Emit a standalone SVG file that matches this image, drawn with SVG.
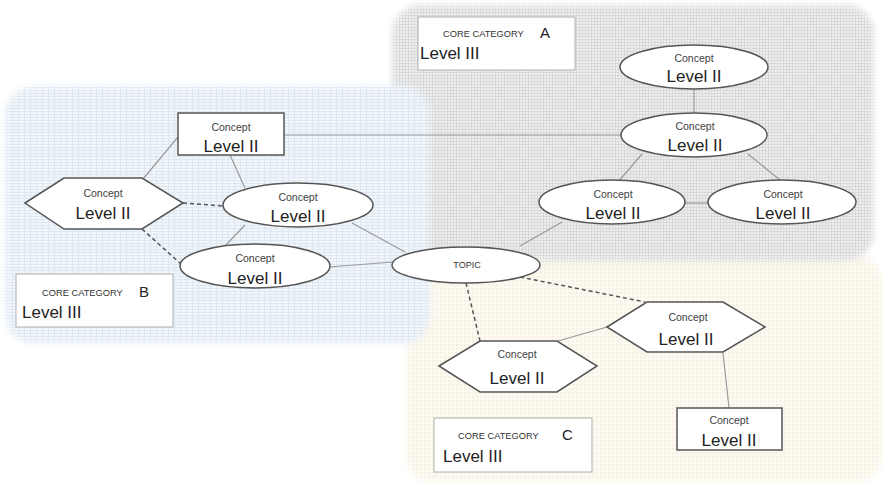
<svg xmlns="http://www.w3.org/2000/svg" width="884" height="486" viewBox="0 0 884 486">
<defs>
  <pattern id="pGray" width="6" height="6" patternUnits="userSpaceOnUse">
    <rect width="6" height="6" fill="#eeeeee"/>
    <path d="M0 0.5H6M0 3.5H6M0.5 0V6M3.5 0V6" stroke="#d9d9d9" stroke-width="1"/>
  </pattern>
  <pattern id="pBlue" width="6" height="6" patternUnits="userSpaceOnUse">
    <rect width="6" height="6" fill="#f1f6fb"/>
    <path d="M0 0.5H6M0 3.5H6M0.5 0V6" stroke="#dfe8f1" stroke-width="1"/>
  </pattern>
  <pattern id="pYellow" width="4" height="4" patternUnits="userSpaceOnUse">
    <rect width="4" height="4" fill="#fcf9f0"/>
    <rect x="0" y="0" width="2" height="2" fill="#f6f0e0"/>
  </pattern>
  <filter id="soft" x="-5%" y="-5%" width="110%" height="110%">
    <feGaussianBlur stdDeviation="3"/>
  </filter>
  <mask id="mGray"><rect x="392" y="5" width="482" height="256" rx="28" fill="#fff" filter="url(#soft)"/></mask>
  <mask id="mBlue"><rect x="5" y="86" width="425" height="258" rx="28" fill="#fff" filter="url(#soft)"/></mask>
  <mask id="mYellow"><rect x="406" y="256" width="476" height="226" rx="26" fill="#fff" filter="url(#soft)"/></mask>
</defs>
<style>
  .node { fill: #ffffff; stroke: #555555; stroke-width: 1.5; }
  .box { fill: #ffffff; stroke: #b0b0b0; stroke-width: 1; }
  .ln { stroke: #9a9a9a; stroke-width: 1.2; fill: none; }
  .dash { stroke: #555555; stroke-width: 1.5; stroke-dasharray: 4 3; fill: none; }
  .c { font-family: "Liberation Sans", Arial, sans-serif; font-size: 10.5px; fill: #404040; text-anchor: middle; }
  .l2 { font-family: "Liberation Sans", Arial, sans-serif; font-size: 17px; fill: #222222; text-anchor: middle; }
  .cc { font-family: "Liberation Sans", Arial, sans-serif; font-size: 9.3px; fill: #333333; }
  .let { font-family: "Liberation Sans", Arial, sans-serif; font-size: 15px; fill: #222222; }
  .l3 { font-family: "Liberation Sans", Arial, sans-serif; font-size: 17px; fill: #222222; }
  .tp { font-family: "Liberation Sans", Arial, sans-serif; font-size: 9px; fill: #333333; text-anchor: middle; }
</style>
<rect width="884" height="486" fill="#ffffff"/>
<g id="regions">
  <rect width="884" height="486" fill="url(#pYellow)" mask="url(#mYellow)"/>
  <rect width="884" height="486" fill="url(#pGray)" mask="url(#mGray)"/>
  <rect width="884" height="486" fill="url(#pBlue)" mask="url(#mBlue)"/>
</g>
<g id="connectors">
  <line class="ln" x1="694" y1="89" x2="694" y2="113"/>
  <line class="ln" x1="642" y1="154" x2="618" y2="182"/>
  <line class="ln" x1="748" y1="154" x2="780" y2="180"/>
  <line class="ln" x1="685" y1="203" x2="709" y2="203"/>
  <line class="ln" x1="562" y1="222" x2="520" y2="246"/>
  <line class="ln" x1="284" y1="135" x2="621" y2="135"/>
  <line class="ln" x1="178" y1="137" x2="143" y2="179"/>
  <line class="ln" x1="230" y1="155" x2="245" y2="188"/>
  <line class="ln" x1="245" y1="225" x2="225" y2="246"/>
  <line class="ln" x1="352" y1="223" x2="405" y2="252"/>
  <line class="ln" x1="329" y1="267" x2="393" y2="262"/>
  <line class="dash" x1="183" y1="203" x2="223" y2="206"/>
  <line class="dash" x1="142" y1="229" x2="181" y2="264"/>
  <line class="dash" x1="466" y1="283" x2="480" y2="341"/>
  <line class="dash" x1="520" y1="277" x2="645" y2="302"/>
  <line class="ln" x1="558" y1="341" x2="607" y2="327"/>
  <line class="ln" x1="723" y1="353" x2="729" y2="408"/>
</g>
<g id="catA">
  <rect class="box" x="418" y="17" width="157" height="53"/>
  <text class="cc" x="443" y="37">CORE CATEGORY</text>
  <text class="let" x="540" y="38">A</text>
  <text class="l3" x="420" y="59">Level III</text>
</g>
<g id="catB">
  <rect class="box" x="16" y="274" width="157" height="53"/>
  <text class="cc" x="42" y="296">CORE CATEGORY</text>
  <text class="let" x="139" y="297">B</text>
  <text class="l3" x="22" y="318">Level III</text>
</g>
<g id="catC">
  <rect class="box" x="434" y="418" width="158" height="54"/>
  <text class="cc" x="458" y="439">CORE CATEGORY</text>
  <text class="let" x="562" y="440">C</text>
  <text class="l3" x="443" y="462">Level III</text>
</g>
<g id="a1">
  <ellipse class="node" cx="694" cy="67" rx="74" ry="22"/>
  <text class="c" x="694" y="62">Concept</text>
  <text class="l2" x="694" y="82">Level II</text>
</g>
<g id="a2">
  <ellipse class="node" cx="694" cy="135" rx="73" ry="22"/>
  <text class="c" x="695" y="130">Concept</text>
  <text class="l2" x="695" y="151">Level II</text>
</g>
<g id="a3">
  <ellipse class="node" cx="612" cy="202" rx="73" ry="22"/>
  <text class="c" x="613" y="198">Concept</text>
  <text class="l2" x="613" y="219">Level II</text>
</g>
<g id="a4">
  <ellipse class="node" cx="782" cy="202" rx="74" ry="22"/>
  <text class="c" x="783" y="198">Concept</text>
  <text class="l2" x="783" y="219">Level II</text>
</g>
<g id="topic">
  <ellipse class="node" cx="466" cy="265" rx="74" ry="18"/>
  <text class="tp" x="467" y="268">TOPIC</text>
</g>
<g id="b1">
  <rect class="node" x="178" y="113" width="106" height="42"/>
  <text class="c" x="231" y="131">Concept</text>
  <text class="l2" x="231" y="152">Level II</text>
</g>
<g id="b2">
  <polygon class="node" points="25,203 64,178 142,178 183,203 142,229 64,229"/>
  <text class="c" x="103" y="197">Concept</text>
  <text class="l2" x="103" y="219">Level II</text>
</g>
<g id="b3">
  <ellipse class="node" cx="298" cy="205" rx="75" ry="22"/>
  <text class="c" x="298" y="201">Concept</text>
  <text class="l2" x="298" y="222">Level II</text>
</g>
<g id="b4">
  <ellipse class="node" cx="255" cy="266" rx="75" ry="22"/>
  <text class="c" x="255" y="262">Concept</text>
  <text class="l2" x="255" y="284">Level II</text>
</g>
<g id="c1">
  <polygon class="node" points="439,366 480,341 557,341 597,366 557,392 480,392"/>
  <text class="c" x="517" y="358">Concept</text>
  <text class="l2" x="517" y="384">Level II</text>
</g>
<g id="c2">
  <polygon class="node" points="607,327 647,302 723,302 765,327 723,352 647,352"/>
  <text class="c" x="688" y="321">Concept</text>
  <text class="l2" x="686" y="345">Level II</text>
</g>
<g id="c3">
  <rect class="node" x="677" y="408" width="105" height="42"/>
  <text class="c" x="729" y="424">Concept</text>
  <text class="l2" x="729" y="446">Level II</text>
</g>
</svg>
